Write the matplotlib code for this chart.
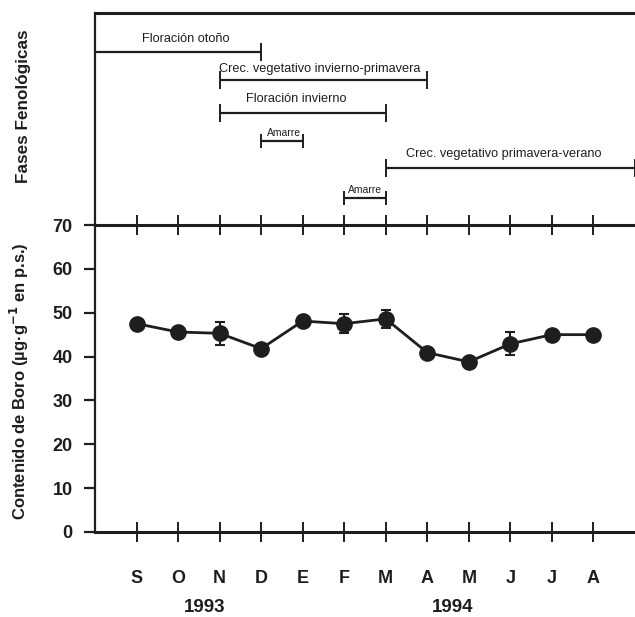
import matplotlib
matplotlib.use("Agg")
import matplotlib.pyplot as plt
import matplotlib.transforms as mtransforms

plt.rcParams['font.family'] = ['Liberation Sans', 'DejaVu Sans']

# monthly boron content (Sept 1993 - Aug 1994)
months = ["S", "O", "N", "D", "E", "F", "M", "A", "M", "J", "J", "A"]
boron = [47.5, 45.6, 45.3, 41.8, 48.1, 47.5, 48.6, 40.9, 38.8, 42.9, 45.0, 45.0]
boron_err = [0.6, 0.6, 2.6, 0.6, 0.6, 2.1, 2.0, 0.6, 0.6, 2.6, 0.5, 0.5]
years = ["1993", "1994"]
year_pos = [1.63, 7.6]

# phenological phases: label, start/end month index, row level, label x
phase_names = ["Floración otoño", "Crec. vegetativo invierno-primavera",
               "Floración invierno", "Amarre",
               "Crec. vegetativo primavera-verano", "Amarre"]
phase_start = [-1, 2, 2, 3, 6, 5]
phase_end = [3, 7, 6, 4, 12, 6]
phase_level = [6.92, 5.8, 4.48, 3.36, 2.28, 1.08]
phase_label_x = [1.18, 4.42, 3.85, 3.56, 8.85, 5.5]
phase_label_gap = [0.3, 0.2, 0.3, 0.12, 0.3, 0.12]

fig = plt.figure(figsize=(6.35, 6.17), dpi=100)
ax = fig.add_axes([95/635, 85/617, 540/635, 307/617])
axt = fig.add_axes([95/635, 392/617, 540/635, 212/617], sharex=ax)
axt.patch.set_visible(False)

ink = "#1e1e1e"

# ---- bottom panel: boron content
x = list(range(len(months)))
ax.errorbar(x, boron, yerr=boron_err, color=ink, lw=2, marker="o",
            markersize=11, capsize=3.5, elinewidth=1.5, capthick=1.5,
            zorder=3)
ax.set_xlim(-1, 12)
ax.set_ylim(0, 70)
ax.set_yticks(range(0, 71, 10))
ax.set_xticks(x)
ax.set_xticklabels(months)
ax.spines["right"].set_visible(False)
ax.spines["left"].set_linewidth(1.6)
ax.spines["top"].set_linewidth(2.2)
ax.spines["bottom"].set_linewidth(2.2)
for s in ax.spines.values():
    s.set_color(ink)
ax.tick_params(axis="x", direction="inout", length=15, width=1.4,
               top=True, pad=20, labelsize=13, colors=ink)
ax.tick_params(axis="y", direction="out", length=8, width=1.6,
               pad=8, labelsize=13, colors=ink)
for lab in ax.get_xticklabels() + ax.get_yticklabels():
    lab.set_fontweight("bold")
ax.set_ylabel("Contenido de Boro (µg·g$^{\\mathbf{-1}}$ en p.s.)",
              fontsize=12, fontweight="bold", color=ink)

trans = mtransforms.blended_transform_factory(ax.transData, fig.transFigure)
for yr, xp in zip(years, year_pos):
    ax.text(xp, 9/617, yr, transform=trans, ha="center", va="center",
            fontsize=13.5, fontweight="bold", color=ink)

# ---- top panel: phenological phases
for name, x0, x1, lev, lx, gap in zip(phase_names, phase_start, phase_end,
                                      phase_level, phase_label_x,
                                      phase_label_gap):
    small = name == "Amarre"
    axt.errorbar((x0 + x1) / 2, lev, xerr=(x1 - x0) / 2, color=ink,
                 lw=1.6, capsize=5 if small else 6.5, capthick=1.4,
                 clip_on=False)
    axt.text(lx, lev + gap, name, ha="center", va="bottom",
             fontsize=7.5 if small else 9.2, color=ink)

axt.set_ylim(0, 212/25)
axt.set_xlim(-1, 12)
axt.spines["right"].set_visible(False)
axt.spines["bottom"].set_visible(False)
axt.spines["left"].set_linewidth(1.6)
axt.spines["top"].set_linewidth(2.2)
for s in axt.spines.values():
    s.set_color(ink)
axt.tick_params(axis="both", which="both", length=0, labelbottom=False,
                labelleft=False)
axt.set_ylabel("Fases Fenológicas", fontsize=12.3, fontweight="bold",
               color=ink)
axt.yaxis.set_label_coords(-0.118, 0.56)
ax.yaxis.set_label_coords(-0.118, 0.49)

fig.savefig("out.png", dpi=100)
